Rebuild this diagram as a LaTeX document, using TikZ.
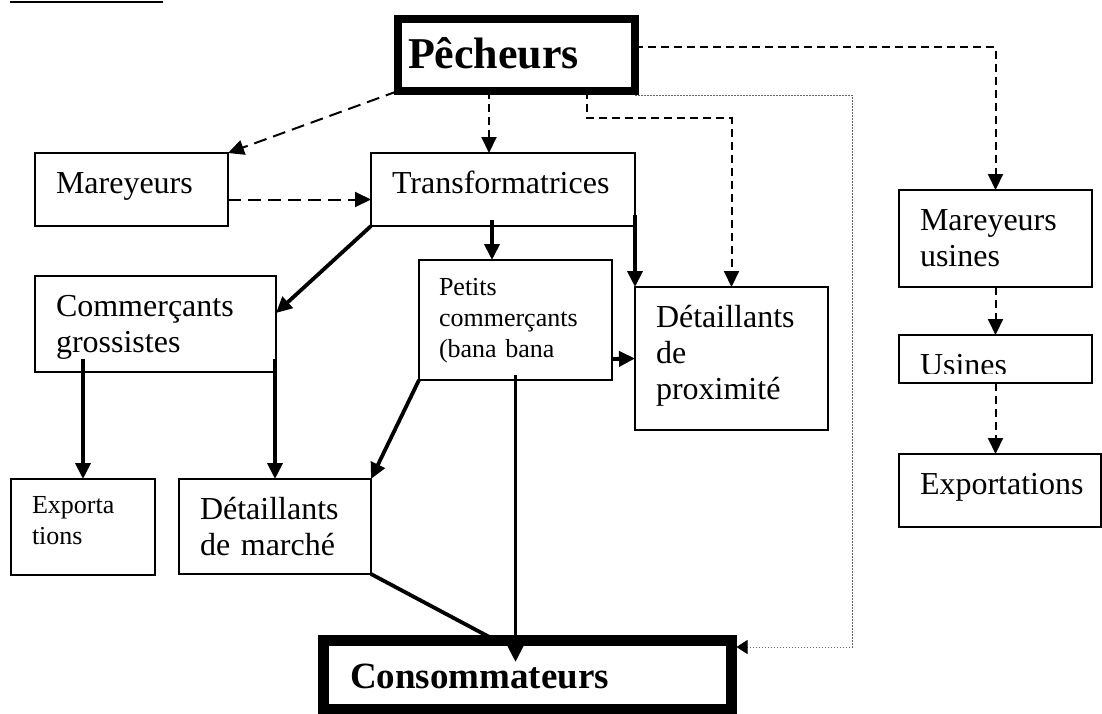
\documentclass[tikz,border=0pt]{standalone}
\usepackage{fontspec}
\setmainfont{Liberation Serif}
\usetikzlibrary{arrows.meta}

\newcommand\regfont{\fontsize{32}{36}\selectfont}
\newcommand\smfont{\fontsize{26}{31}\selectfont}

\tikzset{
  box/.style={draw, line width=1.4pt, anchor=north west, outer sep=0pt,
    inner xsep=21pt, inner ysep=0pt, text height=40pt, align=left, font=\regfont},
  smallbox/.style={box, inner xsep=20pt, font=\smfont},
  flow/.style={line width=3.8pt, -{Triangle[length=16pt,width=15pt]}},
  dshort/.style={line width=2pt, dash pattern=on 8pt off 5pt, -{Triangle[length=16pt,width=15pt]}},
  dlong/.style={line width=2pt, dash pattern=on 13pt off 7pt, -{Triangle[length=16pt,width=15pt]}},
  dots/.style={line width=1pt, black!60, dash pattern=on 1.5pt off 1.5pt, -{Triangle[length=11pt,width=14pt,black]}}
}

\begin{document}
\begin{tikzpicture}[x=1pt,y=-1pt]
  \useasboundingbox (0,0) rectangle (1102,713);
  \draw[line width=1.3pt] (10,2) -- (163,2);

  % acteurs
  \node[box, line width=8pt, inner xsep=10pt, text height=49pt, text width=217pt, text depth=23pt,
    font=\fontsize{44}{48}\selectfont\bfseries] (pech) at (398,19) {Pêcheurs};
  \node[box, text width=151pt, text depth=33pt] (marey) at (35,153) {Mareyeurs};
  \node[box, text width=222pt, text depth=33pt] (transf) at (371,153) {Transformatrices};
  \node[box, text width=199pt, text depth=56pt] (gros) at (35,276) {Commerçants\\grossistes};
  \node[smallbox, text height=35pt, text width=153pt, text depth=85pt] (petits) at (419,260) {Petits\\commerçants\\(bana bana};
  \node[box, text width=151pt, text depth=103pt] (prox) at (635,287) {Détaillants\\de\\proximité};
  \node[smallbox, inner xsep=21pt, text height=34pt, text width=102pt, text depth=62pt] (expo) at (11,479) {Exporta\\tions};
  \node[box, text width=150pt, text depth=55pt] (marche) at (179,479) {Détaillants\\de marché};
  \node[box, line width=11pt, inner xsep=27pt, text height=48pt, text width=354pt, text depth=21pt,
    font=\fontsize{37}{41}\selectfont\bfseries] (cons) at (323,640) {Consommateurs};

  % filiere usine
  \node[box, text width=151pt, text depth=57pt] (mus) at (899,190) {Mareyeurs\\usines};
  \node[box, text width=151pt, text depth=8pt,
    path picture={\clip ([yshift=10pt]path picture bounding box.south west) rectangle (path picture bounding box.north east);
      \node[anchor=base west, inner sep=0pt, font=\regfont] at ([xshift=21pt,yshift=-40pt]path picture bounding box.north west) {Usines};}] (usn) at (899,335) {};
  \node[box, text width=160pt, text depth=33pt] (exprt) at (899,454) {Exportations};

  % circuits
  \path[dlong] (pech.south west) edge (marey.north east);
  \draw[dlong] ([yshift=-10pt]marey.east) -- ([yshift=-10pt]marey.east -| transf.west);
  \draw[dshort] ([xshift=-27.5pt]pech.south) -- ([xshift=-27.5pt]pech.south |- transf.north);
  \draw[dshort] ([xshift=70.5pt]pech.south) -- ++(0,27) -| (prox.north);
  \draw[dshort] ([yshift=8pt]pech.east) -| (mus.north);
  \draw[dshort] (mus.south) -- (usn.north);
  \draw[dshort] (usn.south) -- (usn.south |- exprt.north);
  \draw[dots] ([yshift=-4pt]pech.south east) -- ++(217,0) |- ([xshift=5.5pt,yshift=-7pt]cons.north east);

  \path[flow] (transf.south west) edge ([yshift=11pt]gros.east);
  \draw[flow] ([xshift=-11pt,yshift=6pt]transf.south) -- ([xshift=-23.5pt]petits.north);
  \path[flow] ([yshift=11pt]transf.south east) edge (prox.north west);
  \draw[flow] ([yshift=-39pt]petits.east) -- (prox.west);
  \path[flow] (petits.south west) edge (marche.north east);
  \draw[flow] ([yshift=5pt]petits.south) -- ([xshift=-11.5pt,yshift=-22pt]cons.north);
  \draw[flow] ([xshift=-72.5pt,yshift=13pt]gros.south) -- (expo.north);
  \draw[flow] ([xshift=-1pt,yshift=13pt]gros.south east) -- (marche.north);
  \draw[line width=3.8pt] (marche.south east) -- ([xshift=172pt]cons.north west);
\end{tikzpicture}
\end{document}
